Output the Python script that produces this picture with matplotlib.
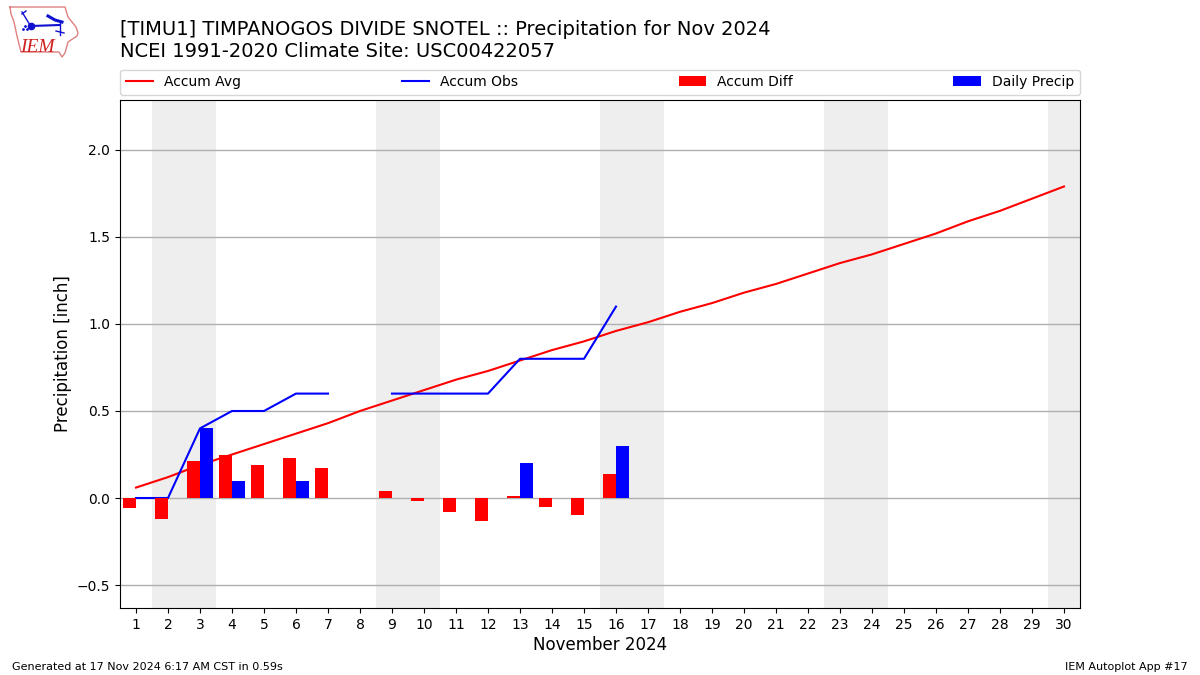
import numpy as np
import matplotlib
matplotlib.use('Agg')
import matplotlib.pyplot as plt

nan = np.nan

days = np.arange(1, 31)
accum_avg = [0.06, 0.12, 0.19, 0.25, 0.31, 0.37, 0.43, 0.50, 0.56, 0.62,
             0.68, 0.73, 0.79, 0.85, 0.90, 0.96, 1.01, 1.07, 1.12, 1.18,
             1.23, 1.29, 1.35, 1.40, 1.46, 1.52, 1.59, 1.65, 1.72, 1.79]
accum_obs = [0.0, 0.0, 0.4, 0.5, 0.5, 0.6, 0.6, nan, 0.6, 0.6,
             0.6, 0.6, 0.8, 0.8, 0.8, 1.1]
accum_diff = [-0.06, -0.12, 0.21, 0.25, 0.19, 0.23, 0.17, nan, 0.04, -0.02,
              -0.08, -0.13, 0.01, -0.05, -0.10, 0.14]
daily_precip = [0.0, 0.0, 0.4, 0.1, 0.0, 0.1, 0.0, nan, 0.0, 0.0,
                0.0, 0.0, 0.2, 0.0, 0.0, 0.3]
weekend_starts = [2, 9, 16, 23, 30]

# logo outline, in pixels of the picture
iowa_x = [10, 65, 68, 76, 78, 77, 68, 65, 62, 59, 21, 17, 14, 11, 10]
iowa_y = [7, 7, 17, 27, 33, 36, 42, 53, 57, 52, 52, 36, 22, 14, 7]

fig = plt.figure(figsize=(12, 6.75), dpi=100)
ax = fig.add_axes([120 / 1200, 1 - 608 / 675, 960 / 1200, 508 / 675])

for d in weekend_starts:
    ax.axvspan(d - 0.5, min(d + 1.5, 30.5), color='#EEEEEE', lw=0, zorder=0)

obs_days = days[:len(accum_obs)]
ax.plot(days, accum_avg, color='r', label='Accum Avg', zorder=3)
ax.plot(obs_days, accum_obs, color='b', label='Accum Obs', zorder=3)
ax.bar(obs_days, accum_diff, width=-0.4, align='edge', color='r', label='Accum Diff', zorder=3)
ax.bar(obs_days, daily_precip, width=0.4, align='edge', color='b', label='Daily Precip', zorder=3)

ax.set_xlim(0.5, 30.5)
ax.set_ylim(-0.632, 2.287)
ax.set_xticks(days)
ax.set_yticks([-0.5, 0, 0.5, 1.0, 1.5, 2.0])
ax.grid(True, axis='y', color='#B0B0B0', lw=1, zorder=1)
ax.set_axisbelow(True)
ax.set_xlabel('November 2024', fontsize=12, labelpad=3.2)
ax.set_ylabel('Precipitation [inch]', fontsize=12, labelpad=3.3)

ax.legend(loc='lower left', bbox_to_anchor=(0, 1.0105, 1, 0.05), mode='expand',
          ncol=4, fontsize=10, borderaxespad=0)

fig.text(120 / 1200, 1 - 35 / 675, '[TIMU1] TIMPANOGOS DIVIDE SNOTEL :: Precipitation for Nov 2024',
         fontsize=14, va='baseline')
fig.text(120 / 1200, 1 - 57 / 675, 'NCEI 1991-2020 Climate Site: USC00422057',
         fontsize=14, va='baseline')
fig.text(12 / 1200, 1 - 670 / 675, 'Generated at 17 Nov 2024 6:17 AM CST in 0.59s', fontsize=8)
fig.text(1188 / 1200, 1 - 670 / 675, 'IEM Autoplot App #17', fontsize=8, ha='right')

# IEM logo
logo = fig.add_axes([0, 0, 1, 1], facecolor='none')
logo.set_xlim(0, 1200)
logo.set_ylim(675, 0)
logo.axis('off')
logo.plot(iowa_x, iowa_y, color='#E08080', lw=1)
logo.plot([31, 60], [26, 25], color='#1010D0', lw=1.5)
logo.plot([48, 55, 62], [16, 20, 22], color='#1010D0', lw=2.2)
logo.plot([60, 60], [22, 35], color='#1010D0', lw=1)
logo.plot([56, 64], [31, 33], color='#1010D0', lw=1)
logo.plot([22, 30], [12, 25], color='#1010D0', lw=1)
logo.plot([22, 26], [14, 11], color='#1010D0', lw=1)
logo.plot([31], [26], 'o', color='#1010D0', ms=4.5)
logo.plot([23, 25, 27], [29, 26, 29], '.', color='#1010D0', ms=2)
logo.text(20.5, 52, 'IEM', family='Liberation Serif', style='italic', color='#D02020', fontsize=14)

fig.savefig('out.png', dpi=100)
